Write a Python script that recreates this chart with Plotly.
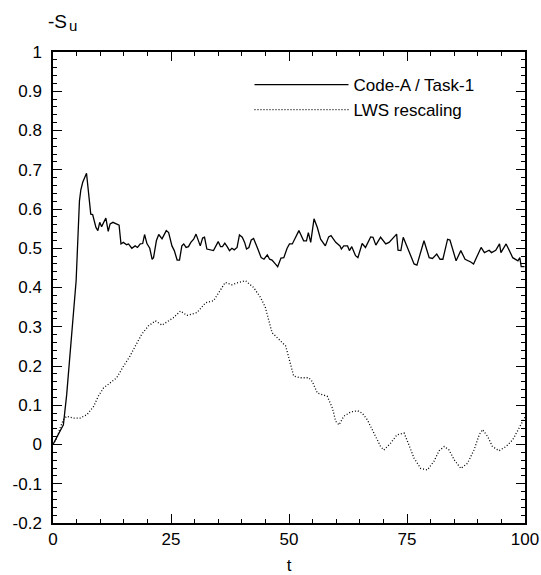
import plotly.graph_objects as go

# ---- data ----
t_code = [0, 1.1, 2.2, 2.9, 3.6, 4.3, 4.9, 5.6, 5.9, 6.3, 7.1, 8.0, 8.4, 9.1, 9.5, 9.9, 10.3,
          11.2, 11.7, 12.1, 12.7, 14.0, 14.4, 14.9, 15.6, 16.0, 16.7, 17.4, 17.9, 18.5, 19.0,
          19.4, 19.9, 20.5, 21.0, 21.3, 21.9, 22.4, 23.1, 24.0, 24.5, 25.2, 25.7, 26.3, 26.8,
          27.3, 27.7, 28.2, 28.7, 29.2, 29.8, 30.3, 30.9, 31.2, 31.7, 32.1, 32.6, 33.3, 34.0,
          35.0, 35.5, 35.9, 36.4, 36.9, 37.4, 37.9, 38.4, 39.0, 39.5, 40.1, 40.6, 41.0, 41.5,
          42.0, 42.5, 43.4, 44.1, 44.7, 45.4, 45.9, 46.4, 47.1, 47.6, 48.3, 48.9, 49.6, 50.1,
          50.7, 51.6, 52.1, 53.1, 53.7, 54.1, 54.6, 55.3, 56.0, 56.7, 57.7, 58.4, 58.9, 59.9,
          60.8, 61.1, 61.6, 62.4, 62.8, 63.3, 64.1, 64.6, 65.5, 66.2, 67.3, 67.8, 68.4, 69.4,
          70.5, 71.2, 72.3, 72.8, 73.1, 73.7, 74.2, 75.1, 76.5, 77.1, 78.6, 79.7, 80.4, 81.3,
          82.0, 82.6, 83.6, 84.1, 85.4, 86.4, 87.3, 88.5, 89.1, 90.7, 91.4, 92.4, 92.9, 93.8,
          94.6, 94.9, 96.0, 97.4, 98.5, 98.9, 99.2, 99.9]
su_code = [0.0, 0.025, 0.05, 0.127, 0.221, 0.315, 0.417, 0.62, 0.649, 0.668, 0.691, 0.587,
           0.586, 0.553, 0.545, 0.566, 0.555, 0.577, 0.543, 0.562, 0.566, 0.559, 0.511, 0.515,
           0.509, 0.511, 0.500, 0.506, 0.502, 0.511, 0.512, 0.535, 0.512, 0.500, 0.472, 0.476,
           0.519, 0.535, 0.524, 0.545, 0.540, 0.506, 0.494, 0.470, 0.470, 0.506, 0.511, 0.502,
           0.504, 0.515, 0.523, 0.536, 0.517, 0.506, 0.526, 0.528, 0.498, 0.496, 0.494, 0.517,
           0.504, 0.504, 0.513, 0.504, 0.494, 0.500, 0.496, 0.502, 0.534, 0.528, 0.515, 0.498,
           0.502, 0.521, 0.525, 0.498, 0.476, 0.472, 0.483, 0.472, 0.470, 0.460, 0.453, 0.475,
           0.476, 0.500, 0.511, 0.511, 0.532, 0.545, 0.519, 0.519, 0.540, 0.515, 0.575, 0.553,
           0.523, 0.506, 0.529, 0.532, 0.515, 0.506, 0.498, 0.506, 0.506, 0.494, 0.504, 0.481,
           0.476, 0.512, 0.502, 0.529, 0.528, 0.508, 0.528, 0.511, 0.515, 0.528, 0.536, 0.495,
           0.494, 0.528, 0.502, 0.460, 0.457, 0.519, 0.476, 0.474, 0.485, 0.472, 0.472, 0.523,
           0.521, 0.468, 0.494, 0.472, 0.465, 0.460, 0.502, 0.489, 0.495, 0.489, 0.495, 0.511,
           0.489, 0.511, 0.476, 0.468, 0.476, 0.453, 0.453]

t_lws = [0, 0.8, 1.5, 2.2, 2.9, 4.3, 5.7, 7.2, 8.6, 9.6, 10.7, 12.1, 13.5, 14.9, 16.3, 17.8,
         18.8, 20.2, 21.7, 23.1, 24.5, 25.5, 27.0, 28.4, 30.5, 32.3, 34.0, 35.5, 36.5, 37.9,
         39.3, 40.8, 42.5, 44.0, 45.0, 46.4, 47.8, 49.3, 51.0, 52.4, 54.2, 54.9, 56.0, 57.0,
         58.1, 59.2, 59.9, 60.6, 61.6, 63.1, 64.5, 65.5, 66.6, 68.0, 69.4, 70.1, 71.5, 72.9,
         74.4, 75.4, 76.5, 77.9, 79.3, 80.7, 81.8, 82.9, 83.9, 85.0, 86.4, 87.8, 89.2, 90.3,
         91.0, 92.1, 93.1, 94.5, 96.0, 97.4, 98.4, 99.5, 100.0]
su_lws = [0.0, 0.016, 0.042, 0.063, 0.072, 0.067, 0.067, 0.076, 0.097, 0.123, 0.144, 0.157,
          0.170, 0.199, 0.225, 0.259, 0.281, 0.302, 0.315, 0.304, 0.315, 0.323, 0.340, 0.329,
          0.336, 0.361, 0.366, 0.396, 0.413, 0.407, 0.413, 0.417, 0.400, 0.374, 0.349, 0.285,
          0.268, 0.251, 0.174, 0.170, 0.170, 0.161, 0.131, 0.127, 0.123, 0.093, 0.059, 0.050,
          0.072, 0.083, 0.086, 0.080, 0.063, 0.029, -0.005, -0.014, 0.003, 0.025, 0.029,
          -0.001, -0.035, -0.061, -0.065, -0.043, -0.016, -0.005, -0.014, -0.039, -0.061,
          -0.048, -0.014, 0.025, 0.038, 0.020, -0.005, -0.016, -0.005, 0.012, 0.033, 0.059, 0.07]

series_names = ["Code-A / Task-1", "LWS rescaling"]
x_tick_vals = [0, 25, 50, 75, 100]
x_tick_text = ["0", "25", "50", "75", "100"]
y_tick_vals = [1, 0.9, 0.8, 0.7, 0.6, 0.5, 0.4, 0.3, 0.2, 0.1, 0, -0.1, -0.2]
y_tick_text = ["1", "0.9", "0.8", "0.7", "0.6", "0.5", "0.4", "0.3", "0.2", "0.1", "0", "-0.1", "-0.2"]

FONT = "Liberation Sans, Arial, Helvetica, sans-serif"
FS = 17

fig = go.Figure()
fig.add_trace(go.Scatter(x=t_code, y=su_code, mode="lines", name=series_names[0],
                         line=dict(color="black", width=1.3)))
fig.add_trace(go.Scatter(x=t_lws, y=su_lws, mode="lines", name=series_names[1],
                         line=dict(color="black", width=1.3, dash="1px,2px")))

axis_common = dict(
    showgrid=False, zeroline=False, showline=True, linecolor="black", linewidth=1.5,
    mirror="allticks", ticks="inside", ticklen=9, tickwidth=1.3, tickcolor="black",
    tickfont=dict(family=FONT, size=FS, color="black"), automargin=False,
)

fig.update_xaxes(range=[0, 100], tickvals=x_tick_vals, ticktext=x_tick_text,
                 minor=dict(dtick=5, ticks="inside", ticklen=4, tickwidth=1.3,
                            tickcolor="black", showgrid=False),
                 title=dict(text="t", font=dict(family=FONT, size=FS, color="black"), standoff=20),
                 **axis_common)
fig.update_yaxes(range=[-0.2, 1], tickvals=y_tick_vals, ticktext=y_tick_text,
                 minor=dict(dtick=0.02, ticks="inside", ticklen=4, tickwidth=1.3,
                            tickcolor="black", showgrid=False),
                 ticklabelstandoff=6,
                 **axis_common)

# y-axis label "-Su" at the top-left (pixel offsets from the plot's left edge)
fig.add_annotation(text="-S", xref="paper", yref="paper", x=0, xshift=-7, y=1.064,
                   xanchor="left", yanchor="middle", showarrow=False,
                   font=dict(family=FONT, size=19, color="black"))
fig.add_annotation(text="u", xref="paper", yref="paper", x=0, xshift=14, y=1.057,
                   xanchor="left", yanchor="middle", showarrow=False,
                   font=dict(family=FONT, size=15, color="black"))

fig.update_layout(
    width=541, height=575,
    margin=dict(l=53, r=16, t=52, b=52, autoexpand=False),
    paper_bgcolor="white", plot_bgcolor="white",
    font=dict(family=FONT, size=FS, color="black"),
    showlegend=True,
    legend=dict(x=0.4163, y=0.968, xanchor="left", yanchor="top", bgcolor="rgba(0,0,0,0)",
                itemwidth=94, font=dict(family=FONT, size=FS, color="black"),
                tracegroupgap=0),
)

# remove the default 8px page margin so the figure fills the window exactly
fig.write_html("out.html", config={"displayModeBar": False},
               post_script="document.body.style.margin='0';")
